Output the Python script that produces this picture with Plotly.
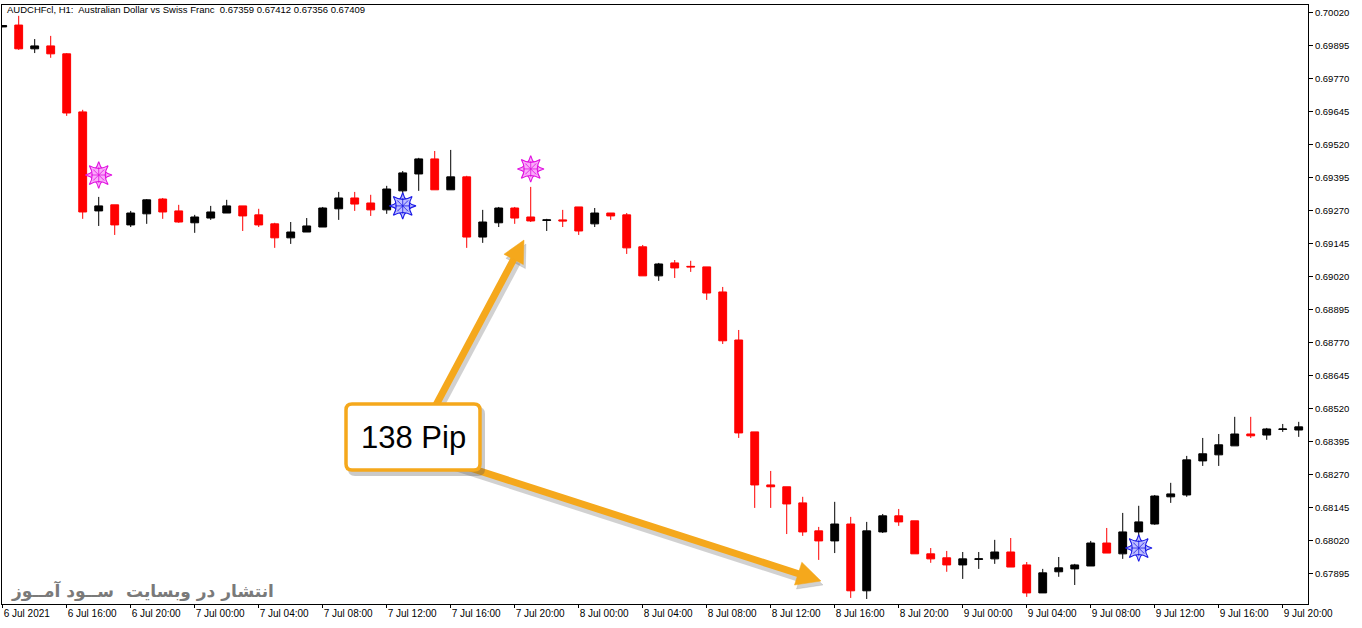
import plotly.graph_objects as go

# ---------------- data (AUDCHF H1) ----------------
opens = [
    0.69967, 0.69974, 0.69884, 0.69895, 0.69865, 0.69645, 0.69270, 0.69293, 0.69217, 0.69259,
    0.69315, 0.69270, 0.69225, 0.69243, 0.69262, 0.69289, 0.69255, 0.69221, 0.69168, 0.69190,
    0.69209, 0.69278, 0.69319, 0.69300, 0.69274, 0.69346, 0.69410, 0.69467, 0.69350, 0.69399,
    0.69171, 0.69225, 0.69281, 0.69247, 0.69234, 0.69236, 0.69285, 0.69221, 0.69262, 0.69255,
    0.69134, 0.69024, 0.69073, 0.69060, 0.69058, 0.68963, 0.68781, 0.68433, 0.68232, 0.68225,
    0.68164, 0.68058, 0.68020, 0.68084, 0.67831, 0.68054, 0.68115, 0.68096, 0.67971, 0.67956,
    0.67929, 0.67950, 0.67952, 0.67978, 0.67929, 0.67823, 0.67903, 0.67914, 0.67925, 0.68012,
    0.67971, 0.68054, 0.68084, 0.68187, 0.68194, 0.68323, 0.68346, 0.68380, 0.68425, 0.68421,
    0.68442, 0.68440]
highs = [
    0.69974, 0.70009, 0.69921, 0.69933, 0.69868, 0.69653, 0.69323, 0.69293, 0.69270, 0.69315,
    0.69319, 0.69293, 0.69255, 0.69289, 0.69312, 0.69289, 0.69278, 0.69225, 0.69228, 0.69243,
    0.69285, 0.69342, 0.69342, 0.69331, 0.69365, 0.69421, 0.69471, 0.69497, 0.69501, 0.69403,
    0.69274, 0.69285, 0.69285, 0.69361, 0.69240, 0.69274, 0.69285, 0.69281, 0.69262, 0.69262,
    0.69141, 0.69073, 0.69084, 0.69081, 0.69058, 0.68982, 0.68819, 0.68433, 0.68285, 0.68225,
    0.68187, 0.68073, 0.68168, 0.68111, 0.68092, 0.68122, 0.68141, 0.68096, 0.67993, 0.67982,
    0.67978, 0.67978, 0.68024, 0.68031, 0.67940, 0.67914, 0.67959, 0.67933, 0.68020, 0.68069,
    0.68126, 0.68153, 0.68194, 0.68240, 0.68342, 0.68410, 0.68425, 0.68490, 0.68490, 0.68448,
    0.68463, 0.68471]
lows = [
    0.69966, 0.69880, 0.69868, 0.69850, 0.69630, 0.69240, 0.69213, 0.69179, 0.69209, 0.69221,
    0.69240, 0.69225, 0.69187, 0.69236, 0.69262, 0.69194, 0.69209, 0.69130, 0.69145, 0.69190,
    0.69209, 0.69236, 0.69270, 0.69251, 0.69259, 0.69323, 0.69346, 0.69350, 0.69350, 0.69130,
    0.69149, 0.69209, 0.69221, 0.69228, 0.69194, 0.69209, 0.69179, 0.69209, 0.69236, 0.69107,
    0.69024, 0.69005, 0.69016, 0.69039, 0.68933, 0.68766, 0.68410, 0.68145, 0.68145, 0.68046,
    0.68039, 0.67948, 0.67974, 0.67804, 0.67800, 0.68050, 0.68077, 0.67971, 0.67937, 0.67903,
    0.67876, 0.67914, 0.67933, 0.67921, 0.67808, 0.67823, 0.67884, 0.67853, 0.67925, 0.67974,
    0.67952, 0.68035, 0.68081, 0.68164, 0.68187, 0.68304, 0.68304, 0.68380, 0.68410, 0.68403,
    0.68433, 0.68414]
closes = [
    0.69972, 0.69884, 0.69895, 0.69865, 0.69641, 0.69266, 0.69289, 0.69217, 0.69262, 0.69312,
    0.69266, 0.69228, 0.69247, 0.69266, 0.69289, 0.69251, 0.69217, 0.69168, 0.69190, 0.69213,
    0.69281, 0.69319, 0.69296, 0.69274, 0.69353, 0.69414, 0.69467, 0.69350, 0.69399, 0.69171,
    0.69228, 0.69281, 0.69243, 0.69232, 0.69236, 0.69232, 0.69194, 0.69262, 0.69251, 0.69130,
    0.69024, 0.69069, 0.69054, 0.69058, 0.68959, 0.68778, 0.68429, 0.68232, 0.68225, 0.68160,
    0.68054, 0.68020, 0.68084, 0.67831, 0.68058, 0.68115, 0.68092, 0.67971, 0.67952, 0.67929,
    0.67952, 0.67952, 0.67978, 0.67921, 0.67823, 0.67899, 0.67918, 0.67929, 0.68012, 0.67974,
    0.68054, 0.68092, 0.68190, 0.68198, 0.68327, 0.68350, 0.68384, 0.68425, 0.68418, 0.68444,
    0.68444, 0.68452]
bar_index = list(range(len(opens)))

# indicator signals (bar index, price)
sell_sig_idx = [6, 33]
sell_sig_price = [0.69406, 0.69429]
buy_sig_idx = [25, 71]
buy_sig_price = [0.69289, 0.67993]

x_tick_idx = list(range(0, 81, 4))
x_tick_text = ["6 Jul 2021", "6 Jul 16:00", "6 Jul 20:00", "7 Jul 00:00", "7 Jul 04:00",
               "7 Jul 08:00", "7 Jul 12:00", "7 Jul 16:00", "7 Jul 20:00", "8 Jul 00:00",
               "8 Jul 04:00", "8 Jul 08:00", "8 Jul 12:00", "8 Jul 16:00", "8 Jul 20:00",
               "9 Jul 00:00", "9 Jul 04:00", "9 Jul 08:00", "9 Jul 12:00", "9 Jul 16:00",
               "9 Jul 20:00"]
y_tick_vals = [0.67895, 0.68020, 0.68145, 0.68270, 0.68395, 0.68520, 0.68645, 0.68770,
               0.68895, 0.69020, 0.69145, 0.69270, 0.69395, 0.69520, 0.69645, 0.69770,
               0.69895, 0.70020]
y_tick_text = ["%.5f" % v for v in y_tick_vals]

title_text = "AUDCHFcl, H1:  Australian Dollar vs Swiss Franc  0.67359 0.67412 0.67356 0.67409"
watermark = "انتشار در وبسایت  ســود آمــوز"
box_text = "138 Pip"

# ---------------- layout geometry ----------------
W_IMG, H_IMG = 1362, 628
M_L, M_T, M_R, M_B = 2, 5, 54, 24
PW = W_IMG - M_L - M_R
PH = H_IMG - M_T - M_B


def px(x):
    return (x - M_L) / PW


def py(y):
    return (M_T + PH - y) / PH


ORANGE = "#F5A81C"

fig = go.Figure()
fig.add_trace(go.Candlestick(
    x=bar_index, open=opens, high=highs, low=lows, close=closes,
    increasing=dict(line=dict(color="#000000", width=1), fillcolor="#000000"),
    decreasing=dict(line=dict(color="#FF0000", width=1), fillcolor="#FF0000"),
    whiskerwidth=0, hoverinfo="skip", showlegend=False,
))


def star_traces(xs, ys, fill, edge):
    out = []
    for ang in (0, 45):
        out.append(go.Scatter(
            x=xs, y=ys, mode="markers", hoverinfo="skip", showlegend=False,
            marker=dict(symbol="star-diamond", angle=ang, size=19, color=fill,
                        line=dict(color=edge, width=1.1)),
        ))
    out.append(go.Scatter(
        x=xs, y=ys, mode="markers", hoverinfo="skip", showlegend=False,
        marker=dict(symbol="asterisk-open", size=13, color=edge,
                    line=dict(color=edge, width=0.8)),
    ))
    return out


for t in star_traces(sell_sig_idx, sell_sig_price, "rgba(250,170,250,0.9)", "#E010E0"):
    fig.add_trace(t)
for t in star_traces(buy_sig_idx, buy_sig_price, "rgba(190,190,255,0.9)", "#1A1AE6"):
    fig.add_trace(t)

shapes = []


def arrow(tail, tip, head_len, head_half, color, width, dx=0, dy=0):
    import math
    (x0, y0), (x1, y1) = tail, tip
    x0 += dx; y0 += dy; x1 += dx; y1 += dy
    L = math.hypot(x1 - x0, y1 - y0)
    ux, uy = (x1 - x0) / L, (y1 - y0) / L
    nx, ny = -uy, ux
    bx, by = x1 - head_len * ux, y1 - head_len * uy
    res = [dict(type="line", xref="paper", yref="paper", layer="above",
                x0=px(x0), y0=py(y0), x1=px(bx + 2 * ux), y1=py(by + 2 * uy),
                line=dict(color=color, width=width))]
    c1 = (bx + head_half * nx, by + head_half * ny)
    c2 = (bx - head_half * nx, by - head_half * ny)
    path = "M %f %f L %f %f L %f %f Z" % (px(x1), py(y1), px(c1[0]), py(c1[1]), px(c2[0]), py(c2[1]))
    res.append(dict(type="path", xref="paper", yref="paper", layer="above", path=path,
                    fillcolor=color, line=dict(color=color, width=0.5)))
    return res


SHADOW = "rgba(90,90,90,0.28)"
top_tail, top_tip = (428, 420), (524, 240)
bot_tail, bot_tip = (430, 455), (821, 581)
shapes += arrow(top_tail, top_tip, 22, 11, SHADOW, 9, dx=2, dy=4)
shapes += arrow(bot_tail, bot_tip, 24, 12, SHADOW, 9, dx=2, dy=4)
shapes += arrow(top_tail, top_tip, 22, 11, ORANGE, 7)
shapes += arrow(bot_tail, bot_tip, 24, 12, ORANGE, 7)


def rrect(x0, y0, x1, y1, r):
    return ("M %f %f L %f %f Q %f %f %f %f L %f %f Q %f %f %f %f "
            "L %f %f Q %f %f %f %f L %f %f Q %f %f %f %f Z") % (
        px(x0 + r), py(y0), px(x1 - r), py(y0), px(x1), py(y0), px(x1), py(y0 + r),
        px(x1), py(y1 - r), px(x1), py(y1), px(x1 - r), py(y1),
        px(x0 + r), py(y1), px(x0), py(y1), px(x0), py(y1 - r),
        px(x0), py(y0 + r), px(x0), py(y0), px(x0 + r), py(y0))


shapes.append(dict(type="path", xref="paper", yref="paper", layer="above",
                   path=rrect(348, 407, 485, 476, 7), fillcolor="rgba(80,80,80,0.30)",
                   line=dict(width=0)))
shapes.append(dict(type="path", xref="paper", yref="paper", layer="above",
                   path=rrect(346, 404, 480, 470, 6), fillcolor="#FFFFFF",
                   line=dict(color=ORANGE, width=3.5)))

annotations = [
    dict(text=title_text, xref="paper", yref="paper", x=px(5), y=py(10),
         xanchor="left", yanchor="middle", showarrow=False,
         font=dict(family="Liberation Sans, Arial", size=9.5, color="#000000")),
    dict(text=box_text, xref="paper", yref="paper", x=px(413), y=py(437),
         xanchor="center", yanchor="middle", showarrow=False,
         font=dict(family="Liberation Sans, Arial", size=31, color="#000000")),
    dict(text="<b>" + watermark + "</b>", xref="paper", yref="paper", x=px(9), y=py(591),
         xanchor="left", yanchor="middle", showarrow=False,
         font=dict(family="DejaVu Sans", size=17, color="#7A7A7A")),
]

fig.update_layout(
    width=W_IMG, height=H_IMG,
    margin=dict(l=M_L, r=M_R, t=M_T, b=M_B, pad=0),
    paper_bgcolor="#FFFFFF", plot_bgcolor="#FFFFFF",
    showlegend=False, hovermode=False,
    boxgap=0.3,
    shapes=shapes, annotations=annotations,
    font=dict(family="Liberation Sans, Arial", size=10, color="#000000"),
)
fig.update_xaxes(
    range=[-0.044, 81.58], rangeslider=dict(visible=False),
    tickmode="array", tickvals=x_tick_idx, ticktext=x_tick_text,
    ticks="outside", ticklen=3, tickcolor="#000000", ticklabelposition="outside right",
    showgrid=False, zeroline=False, showline=True, linecolor="#000000", linewidth=1,
    mirror=True, tickfont=dict(family="Liberation Sans, Arial", size=10, color="#000000"),
)
fig.update_yaxes(
    range=[0.67781, 0.70050], side="right",
    tickmode="array", tickvals=y_tick_vals, ticktext=y_tick_text,
    ticks="outside", ticklen=4, tickcolor="#000000",
    showgrid=False, zeroline=False, showline=True, linecolor="#000000", linewidth=1,
    mirror=True, tickfont=dict(family="Liberation Sans, Arial", size=9.5, color="#000000"),
)

fig.write_html("out.html", config={"displayModeBar": False},
               post_script="document.body.style.margin='0px';document.body.style.overflow='hidden';")
